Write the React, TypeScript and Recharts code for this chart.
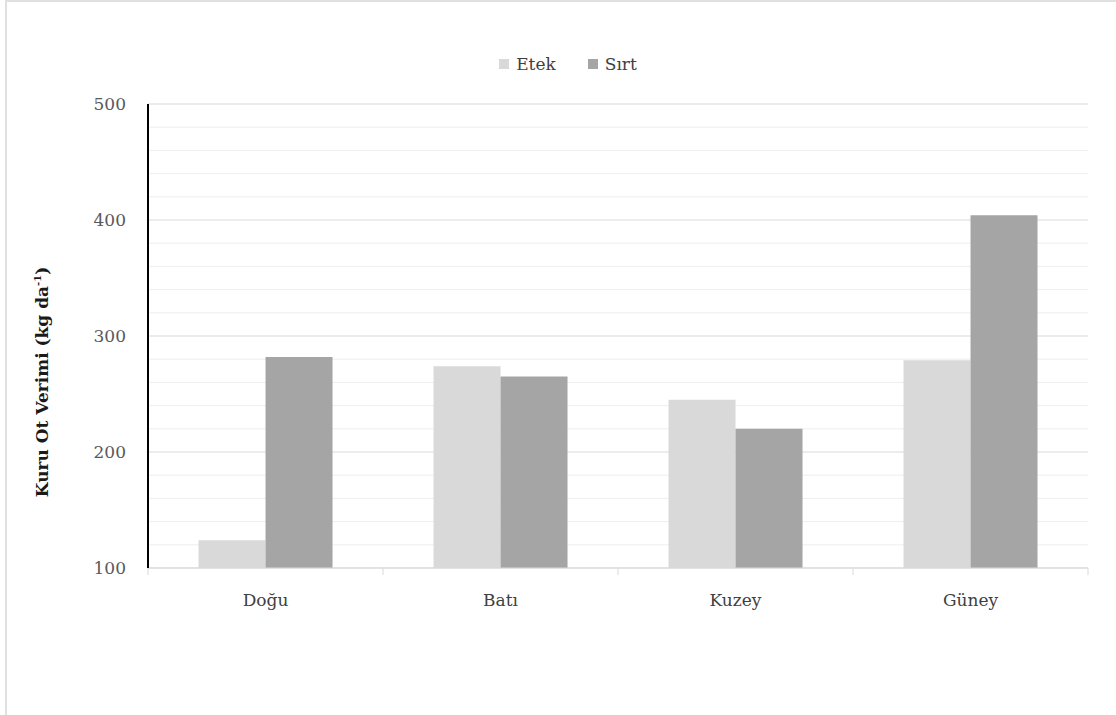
import { BarChart, Bar, XAxis, YAxis, CartesianGrid } from "recharts";

const regions = ["Doğu", "Batı", "Kuzey", "Güney"];
const etek = [124, 274, 245, 279];
const sirt = [282, 265, 220, 404];
const yTicks = [100, 200, 300, 400, 500];
const minorTicks = [120, 140, 160, 180, 220, 240, 260, 280, 320, 340, 360, 380, 420, 440, 460, 480];

const series = [
  { key: "etek", name: "Etek", color: "#d9d9d9" },
  { key: "sirt", name: "Sırt", color: "#a5a5a5" },
];

const data = regions.map((r, i) => ({ region: r, etek: etek[i], sirt: sirt[i] }));

const FONT = "'DejaVu Serif', 'Liberation Serif', serif";

function CatTick(props: any) {
  const { x, y, payload, index, visibleTicksCount } = props;
  const half = payload?.offset ?? 117.5;
  const last = index === (visibleTicksCount ?? 4) - 1;
  return (
    <g>
      <line x1={x - half} x2={x - half} y1={y - 8} y2={y - 1} stroke="#d9d9d9" />
      {last && <line x1={x + half} x2={x + half} y1={y - 8} y2={y - 1} stroke="#d9d9d9" />}
      <text x={x} y={y + 30} textAnchor="middle" fill="#404040" fontSize={17} fontFamily={FONT}>
        {payload.value}
      </text>
    </g>
  );
}

export default function App() {
  return (
    <div style={{ position: "relative", width: 1116, height: 715, background: "#fff" }}>
      <style>{`body{margin:0}`}</style>
      <div
        style={{
          position: "absolute",
          left: 5,
          top: 0,
          right: 0,
          bottom: 0,
          borderLeft: "2px solid #e0e0e0",
          borderTop: "2px solid #e0e0e0",
        }}
      />
      <div
        style={{
          position: "absolute",
          top: 54,
          left: 0,
          width: 1116,
          display: "flex",
          justifyContent: "center",
          gap: 32,
          fontFamily: FONT,
          fontSize: 17,
          color: "#404040",
          paddingLeft: 20,
          boxSizing: "border-box",
        }}
      >
        {series.map((s) => (
          <div key={s.key} style={{ display: "flex", alignItems: "center", gap: 7 }}>
            <span style={{ width: 10, height: 10, background: s.color, display: "inline-block" }} />
            <span>{s.name}</span>
          </div>
        ))}
      </div>
      <div
        style={{
          position: "absolute",
          left: 42,
          top: 382,
          transform: "translate(-50%, -50%) rotate(-90deg)",
          whiteSpace: "nowrap",
          fontFamily: FONT,
          fontWeight: "bold",
          fontSize: 17,
          color: "#1a1a1a",
        }}
      >
        Kuru Ot Verimi (kg da<sup style={{ fontSize: 10 }}>-1</sup>)
      </div>
      <div style={{ position: "absolute", left: 0, top: 0 }}>
        <BarChart
          width={1116}
          height={715}
          data={data}
          margin={{ top: 104, right: 28, left: 88, bottom: 117 }}
          barCategoryGap="21.5%"
          barGap={0}
        >
          <CartesianGrid vertical={false} stroke="#eeeeee" horizontalValues={minorTicks} />
          <CartesianGrid vertical={false} stroke="#d9d9d9" horizontalValues={yTicks} />
          <XAxis
            dataKey="region"
            axisLine={{ stroke: "#d9d9d9" }}
            tickLine={false}
            tick={<CatTick />}
            interval={0}
            height={30}
          />
          <YAxis
            domain={[100, 500]}
            ticks={yTicks}
            axisLine={{ stroke: "#000", strokeWidth: 2 }}
            tickLine={false}
            tick={{ fill: "#595959", fontSize: 17, fontFamily: FONT }}
            tickMargin={16}
            width={60}
          />
          {series.map((s) => (
            <Bar key={s.key} dataKey={s.key} name={s.name} fill={s.color} isAnimationActive={false} />
          ))}
        </BarChart>
      </div>
    </div>
  );
}
